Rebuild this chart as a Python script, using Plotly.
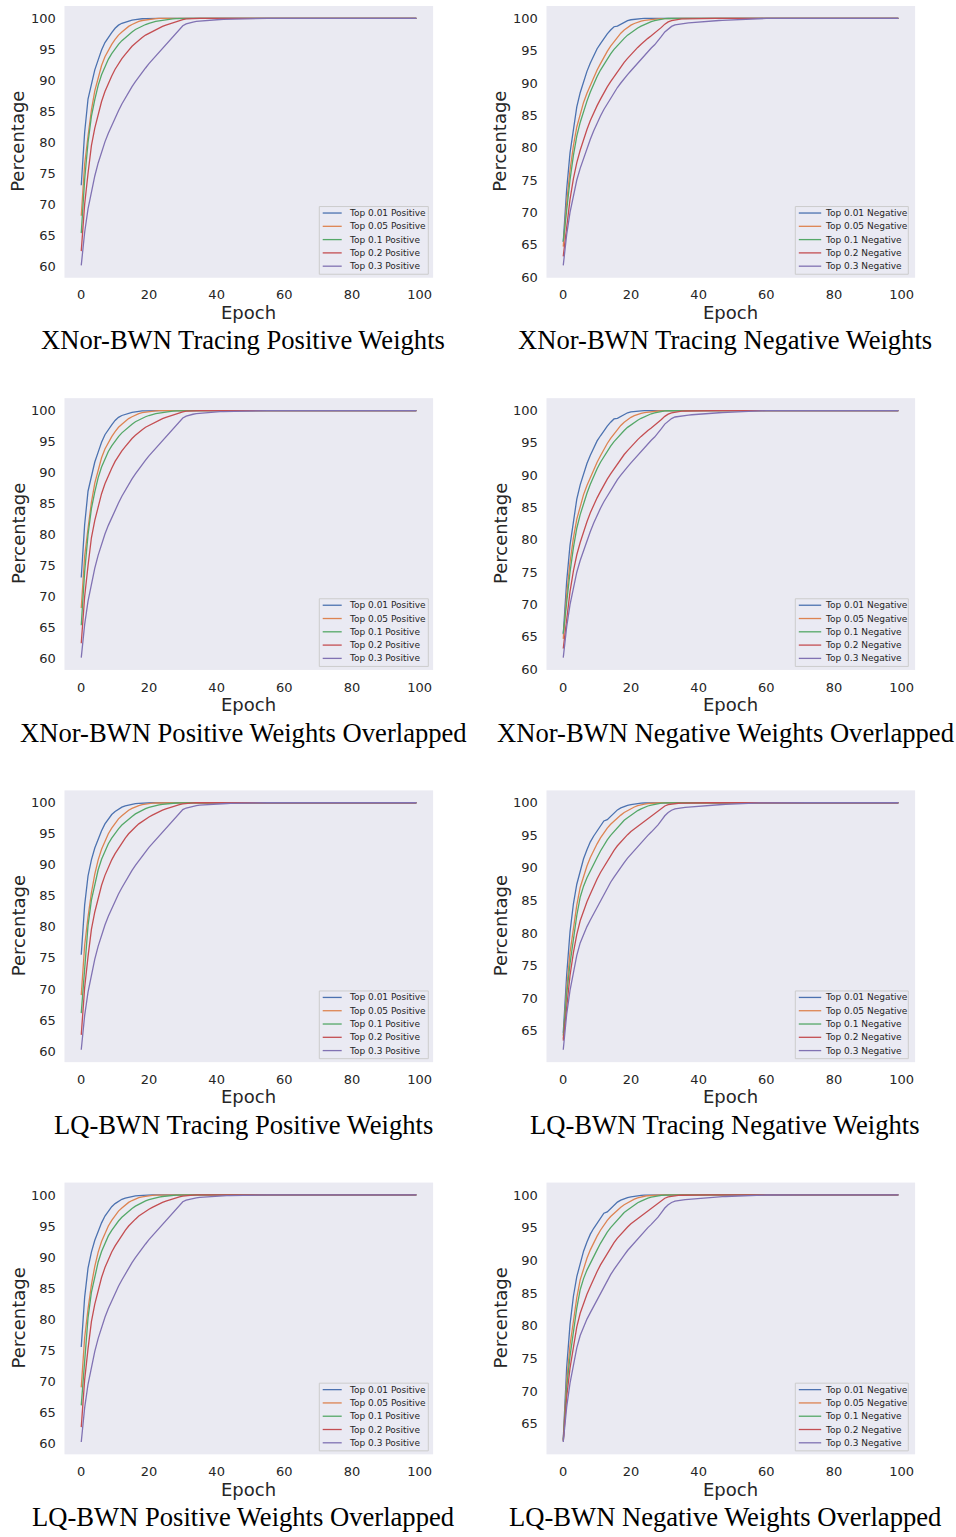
import plotly.graph_objects as go

W, H = 956, 1537
epochs = list(range(100))

# ---------------- XNor-BWN, positive weights ----------------
xnor_pos_top001 = [
    73.1, 81.6, 87.0, 89.6, 91.7, 93.3, 94.9, 96.1, 97.0, 97.7,
    98.4, 98.9, 99.2, 99.4, 99.6, 99.7, 99.8, 99.9, 99.93, 99.96,
    100, 100, 100, 100, 100, 100, 100, 100, 100, 100,
    100, 100, 100, 100, 100, 100, 100, 100, 100, 100,
    100, 100, 100, 100, 100, 100, 100, 100, 100, 100,
    100, 100, 100, 100, 100, 100, 100, 100, 100, 100,
    100, 100, 100, 100, 100, 100, 100, 100, 100, 100,
    100, 100, 100, 100, 100, 100, 100, 100, 100, 100,
    100, 100, 100, 100, 100, 100, 100, 100, 100, 100,
    100, 100, 100, 100, 100, 100, 100, 100, 100, 100,
]
xnor_pos_top005 = [
    68.2, 76.5, 81.0, 85.2, 88.3, 90.6, 92.4, 93.8, 94.9, 95.8,
    96.6, 97.3, 97.8, 98.3, 98.7, 99.0, 99.3, 99.5, 99.65, 99.75,
    99.85, 99.9, 99.95, 99.98, 100, 100, 100, 100, 100, 100,
    100, 100, 100, 100, 100, 100, 100, 100, 100, 100,
    100, 100, 100, 100, 100, 100, 100, 100, 100, 100,
    100, 100, 100, 100, 100, 100, 100, 100, 100, 100,
    100, 100, 100, 100, 100, 100, 100, 100, 100, 100,
    100, 100, 100, 100, 100, 100, 100, 100, 100, 100,
    100, 100, 100, 100, 100, 100, 100, 100, 100, 100,
    100, 100, 100, 100, 100, 100, 100, 100, 100, 100,
]
xnor_pos_top01 = [
    65.4, 74.0, 80.0, 84.2, 86.9, 89.2, 90.9, 92.3, 93.4, 94.3,
    95.1, 95.8, 96.4, 96.9, 97.4, 97.8, 98.2, 98.5, 98.8, 99.0,
    99.2, 99.4, 99.5, 99.6, 99.7, 99.8, 99.85, 99.9, 99.95, 99.98,
    100, 100, 100, 100, 100, 100, 100, 100, 100, 100,
    100, 100, 100, 100, 100, 100, 100, 100, 100, 100,
    100, 100, 100, 100, 100, 100, 100, 100, 100, 100,
    100, 100, 100, 100, 100, 100, 100, 100, 100, 100,
    100, 100, 100, 100, 100, 100, 100, 100, 100, 100,
    100, 100, 100, 100, 100, 100, 100, 100, 100, 100,
    100, 100, 100, 100, 100, 100, 100, 100, 100, 100,
]
xnor_pos_top02 = [
    62.5, 70.0, 75.0, 79.5, 82.3, 84.7, 86.6, 88.2, 89.6, 90.7,
    91.8, 92.7, 93.5, 94.2, 94.9, 95.5, 96.0, 96.5, 96.9, 97.3,
    97.6, 97.9, 98.2, 98.4, 98.7, 98.9, 99.1, 99.3, 99.5, 99.65,
    99.8, 99.9, 99.95, 99.98, 100, 100, 100, 100, 100, 100,
    100, 100, 100, 100, 100, 100, 100, 100, 100, 100,
    100, 100, 100, 100, 100, 100, 100, 100, 100, 100,
    100, 100, 100, 100, 100, 100, 100, 100, 100, 100,
    100, 100, 100, 100, 100, 100, 100, 100, 100, 100,
    100, 100, 100, 100, 100, 100, 100, 100, 100, 100,
    100, 100, 100, 100, 100, 100, 100, 100, 100, 100,
]
xnor_pos_top03 = [
    60.2, 65.5, 69.3, 72.2, 74.6, 76.7, 78.5, 80.1, 81.5, 82.8,
    84.0, 85.1, 86.2, 87.2, 88.1, 89.0, 89.8, 90.6, 91.3, 92.0,
    92.7, 93.3, 93.9, 94.5, 95.1, 95.7, 96.3, 96.9, 97.5, 98.1,
    98.8, 99.1, 99.3, 99.4, 99.5, 99.56, 99.62, 99.67, 99.71, 99.75,
    99.78, 99.81, 99.84, 99.86, 99.88, 99.9, 99.92, 99.93, 99.94, 99.95,
    99.96, 99.97, 99.98, 99.99, 99.99, 100, 100, 100, 100, 100,
    100, 100, 100, 100, 100, 100, 100, 100, 100, 100,
    100, 100, 100, 100, 100, 100, 100, 100, 100, 100,
    100, 100, 100, 100, 100, 100, 100, 100, 100, 100,
    100, 100, 100, 100, 100, 100, 100, 100, 100, 100,
]

# ---------------- XNor-BWN, negative weights ----------------
xnor_neg_top001 = [
    65.4, 73.5, 79.2, 83.0, 86.3, 88.5, 90.3, 91.8, 93.1, 94.3,
    95.3, 96.1, 96.9, 97.6, 98.2, 98.7, 98.8, 99.1, 99.4, 99.65,
    99.78, 99.86, 99.92, 99.96, 99.98, 100, 100, 100, 100, 100,
    100, 100, 100, 100, 100, 100, 100, 100, 100, 100,
    100, 100, 100, 100, 100, 100, 100, 100, 100, 100,
    100, 100, 100, 100, 100, 100, 100, 100, 100, 100,
    100, 100, 100, 100, 100, 100, 100, 100, 100, 100,
    100, 100, 100, 100, 100, 100, 100, 100, 100, 100,
    100, 100, 100, 100, 100, 100, 100, 100, 100, 100,
    100, 100, 100, 100, 100, 100, 100, 100, 100, 100,
]
xnor_neg_top005 = [
    64.7, 71.5, 76.5, 80.3, 83.2, 85.2, 87.0, 88.4, 89.7, 90.9,
    92.0, 93.0, 94.0, 94.9, 95.7, 96.4, 97.1, 97.7, 98.2, 98.6,
    98.95, 99.2, 99.4, 99.55, 99.67, 99.76, 99.83, 99.88, 99.93, 99.96,
    99.98, 100, 100, 100, 100, 100, 100, 100, 100, 100,
    100, 100, 100, 100, 100, 100, 100, 100, 100, 100,
    100, 100, 100, 100, 100, 100, 100, 100, 100, 100,
    100, 100, 100, 100, 100, 100, 100, 100, 100, 100,
    100, 100, 100, 100, 100, 100, 100, 100, 100, 100,
    100, 100, 100, 100, 100, 100, 100, 100, 100, 100,
    100, 100, 100, 100, 100, 100, 100, 100, 100, 100,
]
xnor_neg_top01 = [
    65.5, 70.5, 75.0, 78.8, 81.8, 83.9, 85.7, 87.2, 88.6, 89.9,
    91.0, 92.0, 92.9, 93.7, 94.5, 95.2, 95.8, 96.4, 96.9, 97.4,
    97.8, 98.2, 98.5, 98.8, 99.05, 99.3, 99.5, 99.65, 99.78, 99.88,
    99.94, 99.97, 99.99, 100, 100, 100, 100, 100, 100, 100,
    100, 100, 100, 100, 100, 100, 100, 100, 100, 100,
    100, 100, 100, 100, 100, 100, 100, 100, 100, 100,
    100, 100, 100, 100, 100, 100, 100, 100, 100, 100,
    100, 100, 100, 100, 100, 100, 100, 100, 100, 100,
    100, 100, 100, 100, 100, 100, 100, 100, 100, 100,
    100, 100, 100, 100, 100, 100, 100, 100, 100, 100,
]
xnor_neg_top02 = [
    63.2, 68.0, 72.0, 75.2, 77.7, 79.6, 81.3, 82.8, 84.2, 85.4,
    86.5, 87.5, 88.5, 89.4, 90.2, 91.0, 91.8, 92.5, 93.2, 93.8,
    94.4, 95.0, 95.5, 96.0, 96.5, 96.9, 97.3, 97.7, 98.1, 98.6,
    99.1, 99.45, 99.65, 99.77, 99.85, 99.9, 99.93, 99.95, 99.97, 99.98,
    99.99, 100, 100, 100, 100, 100, 100, 100, 100, 100,
    100, 100, 100, 100, 100, 100, 100, 100, 100, 100,
    100, 100, 100, 100, 100, 100, 100, 100, 100, 100,
    100, 100, 100, 100, 100, 100, 100, 100, 100, 100,
    100, 100, 100, 100, 100, 100, 100, 100, 100, 100,
    100, 100, 100, 100, 100, 100, 100, 100, 100, 100,
]
xnor_neg_top03 = [
    61.8, 66.5, 70.0, 72.8, 75.0, 76.8, 78.4, 79.9, 81.3, 82.6,
    83.8, 84.9, 85.9, 86.8, 87.7, 88.5, 89.3, 90.0, 90.7, 91.3,
    91.9, 92.5, 93.1, 93.7, 94.3, 94.8, 95.4, 95.9, 96.5, 97.2,
    97.9, 98.4, 98.75, 99.0, 99.1, 99.18, 99.25, 99.3, 99.35, 99.4,
    99.44, 99.48, 99.52, 99.56, 99.6, 99.63, 99.66, 99.69, 99.72, 99.75,
    99.78, 99.8, 99.83, 99.85, 99.88, 99.9, 99.92, 99.94, 99.96, 99.98,
    99.99, 100, 100, 100, 100, 100, 100, 100, 100, 100,
    100, 100, 100, 100, 100, 100, 100, 100, 100, 100,
    100, 100, 100, 100, 100, 100, 100, 100, 100, 100,
    100, 100, 100, 100, 100, 100, 100, 100, 100, 100,
]

# ---------------- LQ-BWN, positive weights ----------------
lq_pos_top001 = [
    75.5, 83.5, 88.2, 90.8, 92.7, 94.2, 95.5, 96.6, 97.4, 98.1,
    98.6, 99.0, 99.3, 99.5, 99.65, 99.75, 99.85, 99.9, 99.95, 99.97,
    99.99, 100, 100, 100, 100, 100, 100, 100, 100, 100,
    100, 100, 100, 100, 100, 100, 100, 100, 100, 100,
    100, 100, 100, 100, 100, 100, 100, 100, 100, 100,
    100, 100, 100, 100, 100, 100, 100, 100, 100, 100,
    100, 100, 100, 100, 100, 100, 100, 100, 100, 100,
    100, 100, 100, 100, 100, 100, 100, 100, 100, 100,
    100, 100, 100, 100, 100, 100, 100, 100, 100, 100,
    100, 100, 100, 100, 100, 100, 100, 100, 100, 100,
]
lq_pos_top005 = [
    69.0, 77.0, 81.6, 85.5, 88.5, 90.8, 92.5, 93.9, 95.0, 95.9,
    96.7, 97.4, 97.9, 98.4, 98.8, 99.1, 99.35, 99.55, 99.7, 99.8,
    99.88, 99.93, 99.96, 99.98, 100, 100, 100, 100, 100, 100,
    100, 100, 100, 100, 100, 100, 100, 100, 100, 100,
    100, 100, 100, 100, 100, 100, 100, 100, 100, 100,
    100, 100, 100, 100, 100, 100, 100, 100, 100, 100,
    100, 100, 100, 100, 100, 100, 100, 100, 100, 100,
    100, 100, 100, 100, 100, 100, 100, 100, 100, 100,
    100, 100, 100, 100, 100, 100, 100, 100, 100, 100,
    100, 100, 100, 100, 100, 100, 100, 100, 100, 100,
]
lq_pos_top01 = [
    66.1, 74.0, 80.2, 84.3, 87.0, 89.2, 90.9, 92.3, 93.4, 94.3,
    95.1, 95.8, 96.4, 96.9, 97.4, 97.8, 98.2, 98.5, 98.8, 99.05,
    99.25, 99.42, 99.55, 99.65, 99.75, 99.83, 99.89, 99.93, 99.96, 99.98,
    100, 100, 100, 100, 100, 100, 100, 100, 100, 100,
    100, 100, 100, 100, 100, 100, 100, 100, 100, 100,
    100, 100, 100, 100, 100, 100, 100, 100, 100, 100,
    100, 100, 100, 100, 100, 100, 100, 100, 100, 100,
    100, 100, 100, 100, 100, 100, 100, 100, 100, 100,
    100, 100, 100, 100, 100, 100, 100, 100, 100, 100,
    100, 100, 100, 100, 100, 100, 100, 100, 100, 100,
]
lq_pos_top02 = [
    62.6, 70.2, 75.2, 79.6, 82.4, 84.8, 86.7, 88.3, 89.6, 90.8,
    91.8, 92.7, 93.5, 94.3, 95.0, 95.6, 96.1, 96.6, 97.0, 97.4,
    97.7, 98.0, 98.3, 98.5, 98.8, 99.0, 99.2, 99.4, 99.55, 99.7,
    99.82, 99.9, 99.95, 99.98, 100, 100, 100, 100, 100, 100,
    100, 100, 100, 100, 100, 100, 100, 100, 100, 100,
    100, 100, 100, 100, 100, 100, 100, 100, 100, 100,
    100, 100, 100, 100, 100, 100, 100, 100, 100, 100,
    100, 100, 100, 100, 100, 100, 100, 100, 100, 100,
    100, 100, 100, 100, 100, 100, 100, 100, 100, 100,
    100, 100, 100, 100, 100, 100, 100, 100, 100, 100,
]
lq_pos_top03 = [
    60.2, 65.7, 69.5, 72.4, 74.8, 76.9, 78.7, 80.3, 81.7, 83.0,
    84.2, 85.3, 86.3, 87.3, 88.2, 89.1, 89.9, 90.7, 91.4, 92.1,
    92.8, 93.4, 94.0, 94.6, 95.2, 95.8, 96.4, 97.0, 97.6, 98.2,
    98.9, 99.15, 99.3, 99.42, 99.52, 99.6, 99.65, 99.7, 99.74, 99.78,
    99.81, 99.84, 99.86, 99.88, 99.9, 99.92, 99.93, 99.94, 99.95, 99.96,
    99.97, 99.98, 99.99, 99.99, 100, 100, 100, 100, 100, 100,
    100, 100, 100, 100, 100, 100, 100, 100, 100, 100,
    100, 100, 100, 100, 100, 100, 100, 100, 100, 100,
    100, 100, 100, 100, 100, 100, 100, 100, 100, 100,
    100, 100, 100, 100, 100, 100, 100, 100, 100, 100,
]

# ---------------- LQ-BWN, negative weights ----------------
lq_neg_top001 = [
    64.7, 73.5, 80.2, 84.5, 87.5, 89.7, 91.4, 92.8, 94.0, 94.9,
    95.7, 96.5, 97.2, 97.4, 97.9, 98.4, 98.9, 99.2, 99.45, 99.6,
    99.72, 99.82, 99.88, 99.93, 99.96, 99.98, 100, 100, 100, 100,
    100, 100, 100, 100, 100, 100, 100, 100, 100, 100,
    100, 100, 100, 100, 100, 100, 100, 100, 100, 100,
    100, 100, 100, 100, 100, 100, 100, 100, 100, 100,
    100, 100, 100, 100, 100, 100, 100, 100, 100, 100,
    100, 100, 100, 100, 100, 100, 100, 100, 100, 100,
    100, 100, 100, 100, 100, 100, 100, 100, 100, 100,
    100, 100, 100, 100, 100, 100, 100, 100, 100, 100,
]
lq_neg_top005 = [
    63.8, 71.5, 77.0, 81.0, 84.3, 87.0, 88.8, 90.3, 91.6, 92.7,
    93.7, 94.6, 95.4, 96.1, 96.7, 97.2, 97.7, 98.1, 98.5, 98.8,
    99.1, 99.35, 99.55, 99.7, 99.8, 99.88, 99.93, 99.96, 99.98, 100,
    100, 100, 100, 100, 100, 100, 100, 100, 100, 100,
    100, 100, 100, 100, 100, 100, 100, 100, 100, 100,
    100, 100, 100, 100, 100, 100, 100, 100, 100, 100,
    100, 100, 100, 100, 100, 100, 100, 100, 100, 100,
    100, 100, 100, 100, 100, 100, 100, 100, 100, 100,
    100, 100, 100, 100, 100, 100, 100, 100, 100, 100,
    100, 100, 100, 100, 100, 100, 100, 100, 100, 100,
]
lq_neg_top01 = [
    64.3, 70.5, 75.3, 79.3, 82.7, 85.5, 87.2, 88.5, 89.6, 90.6,
    91.6, 92.6, 93.5, 94.3, 95.0, 95.6, 96.2, 96.8, 97.3, 97.7,
    98.1, 98.5, 98.8, 99.05, 99.3, 99.5, 99.65, 99.77, 99.87, 99.93,
    99.97, 99.99, 100, 100, 100, 100, 100, 100, 100, 100,
    100, 100, 100, 100, 100, 100, 100, 100, 100, 100,
    100, 100, 100, 100, 100, 100, 100, 100, 100, 100,
    100, 100, 100, 100, 100, 100, 100, 100, 100, 100,
    100, 100, 100, 100, 100, 100, 100, 100, 100, 100,
    100, 100, 100, 100, 100, 100, 100, 100, 100, 100,
    100, 100, 100, 100, 100, 100, 100, 100, 100, 100,
]
lq_neg_top02 = [
    63.5, 69.0, 73.5, 77.0, 79.8, 81.9, 83.5, 84.8, 86.0, 87.2,
    88.3, 89.3, 90.2, 91.1, 91.9, 92.7, 93.4, 94.0, 94.6, 95.1,
    95.6, 96.0, 96.4, 96.8, 97.2, 97.6, 98.0, 98.4, 98.8, 99.2,
    99.5, 99.7, 99.8, 99.87, 99.92, 99.95, 99.97, 99.98, 99.99, 100,
    100, 100, 100, 100, 100, 100, 100, 100, 100, 100,
    100, 100, 100, 100, 100, 100, 100, 100, 100, 100,
    100, 100, 100, 100, 100, 100, 100, 100, 100, 100,
    100, 100, 100, 100, 100, 100, 100, 100, 100, 100,
    100, 100, 100, 100, 100, 100, 100, 100, 100, 100,
    100, 100, 100, 100, 100, 100, 100, 100, 100, 100,
]
lq_neg_top03 = [
    62.1, 67.5, 71.2, 74.2, 76.6, 78.5, 79.9, 81.0, 82.0, 83.0,
    84.0, 85.0, 86.0, 86.9, 87.8, 88.6, 89.4, 90.1, 90.8, 91.5,
    92.1, 92.7, 93.3, 93.9, 94.5, 95.0, 95.5, 96.0, 96.6, 97.3,
    98.0, 98.5, 98.85, 99.05, 99.15, 99.22, 99.28, 99.33, 99.38, 99.42,
    99.46, 99.5, 99.54, 99.58, 99.62, 99.66, 99.7, 99.73, 99.76, 99.79,
    99.82, 99.84, 99.86, 99.88, 99.9, 99.92, 99.94, 99.96, 99.97, 99.98,
    99.99, 100, 100, 100, 100, 100, 100, 100, 100, 100,
    100, 100, 100, 100, 100, 100, 100, 100, 100, 100,
    100, 100, 100, 100, 100, 100, 100, 100, 100, 100,
    100, 100, 100, 100, 100, 100, 100, 100, 100, 100,
]
# epoch-0 values of the LQ-BWN negative "overlapped" panel (curves start together)
lq_neg_overlap_start = [62.6, 62.5, 62.4, 62.3, 62.2]

top_labels = ["Top 0.01", "Top 0.05", "Top 0.1", "Top 0.2", "Top 0.3"]
colors = ["#4C72B0", "#DD8452", "#55A868", "#C44E52", "#8172B3"]

xnor_pos = [xnor_pos_top001, xnor_pos_top005, xnor_pos_top01, xnor_pos_top02, xnor_pos_top03]
xnor_neg = [xnor_neg_top001, xnor_neg_top005, xnor_neg_top01, xnor_neg_top02, xnor_neg_top03]
lq_pos = [lq_pos_top001, lq_pos_top005, lq_pos_top01, lq_pos_top02, lq_pos_top03]
lq_neg = [lq_neg_top001, lq_neg_top005, lq_neg_top01, lq_neg_top02, lq_neg_top03]
lq_neg_overlap = [[s0] + s[1:] for s0, s in zip(lq_neg_overlap_start, lq_neg)]

panels = [
    ("XNor-BWN Tracing Positive Weights", xnor_pos, "Positive", 0, 0),
    ("XNor-BWN Tracing Negative Weights", xnor_neg, "Negative", 0, 1),
    ("XNor-BWN Positive Weights Overlapped", xnor_pos, "Positive", 1, 0),
    ("XNor-BWN Negative Weights Overlapped", xnor_neg, "Negative", 1, 1),
    ("LQ-BWN Tracing Positive Weights", lq_pos, "Positive", 2, 0),
    ("LQ-BWN Tracing Negative Weights", lq_neg, "Negative", 2, 1),
    ("LQ-BWN Positive Weights Overlapped", lq_pos, "Positive", 3, 0),
    ("LQ-BWN Negative Weights Overlapped", lq_neg_overlap, "Negative", 3, 1),
]

# layout geometry (pixels)
COL_LEFT = [64.5, 546.5]
PW, PH = 368.6, 273.0
ROW_TOP0, ROW_STEP = 6.0, 394.0
TITLE_X = [243.0, 725.0]
YLABEL_X = [18.0, 500.0]
TEXT = "#262626"
SANS = "DejaVu Sans"

def px(x):
    return x / W

def py(y):
    return 1 - y / H

fig = go.Figure()
shapes, annotations = [], []
layout_axes = {}

for i, (title, series, kind, r, c) in enumerate(panels):
    n = i + 1
    sfx = "" if n == 1 else str(n)
    left = COL_LEFT[c]
    top = ROW_TOP0 + ROW_STEP * r
    for s, color, lab in zip(series, colors, top_labels):
        fig.add_trace(go.Scatter(
            x=epochs[:len(s)], y=s, mode="lines",
            line=dict(color=color, width=1.3),
            name=f"{lab} {kind}", showlegend=False,
            xaxis="x" + sfx, yaxis="y" + sfx, hoverinfo="skip"))
    lo = min(min(s) for s in series)
    hi = max(max(s) for s in series)
    pad = 0.05 * (hi - lo)
    xpad = 0.05 * (epochs[-1] - epochs[0])
    common = dict(showgrid=False, zeroline=False, showline=False,
                  ticks="outside", ticklen=5, tickcolor="rgba(0,0,0,0)",
                  tickfont=dict(family=SANS, size=13, color=TEXT))
    layout_axes["xaxis" + sfx] = dict(
        domain=[px(left), px(left + PW)], anchor="y" + sfx,
        range=[epochs[0] - xpad, epochs[-1] + xpad],
        tickmode="array", tickvals=[0, 20, 40, 60, 80, 100], **common)
    layout_axes["yaxis" + sfx] = dict(
        domain=[py(top + PH), py(top)], anchor="x" + sfx,
        range=[lo - pad, hi + pad], tick0=0, dtick=5, **common)

    # axis titles and panel caption
    annotations.append(dict(x=px(left + PW / 2), y=py(top + 308), xref="paper", yref="paper",
                            text="Epoch", showarrow=False, xanchor="center", yanchor="middle",
                            font=dict(family=SANS, size=18, color=TEXT)))
    annotations.append(dict(x=px(YLABEL_X[c]), y=py(top + PH / 2), xref="paper", yref="paper",
                            text="Percentage", showarrow=False, textangle=-90,
                            xanchor="center", yanchor="middle",
                            font=dict(family=SANS, size=18, color=TEXT)))
    annotations.append(dict(x=px(TITLE_X[c]), y=py(top + 336), xref="paper", yref="paper",
                            text=title, showarrow=False, xanchor="center", yanchor="middle",
                            font=dict(family="Liberation Serif", size=26.6, color="black")))

    # legend box (lower right)
    if c == 0:
        bx0, bx1, hx0, hx1, tx = 254.8, 363.8, 258.2, 277.2, 282.8
    else:
        bx0, bx1, hx0, hx1, tx = 248.8, 361.8, 252.3, 274.7, 276.8
    shapes.append(dict(type="rect", xref="paper", yref="paper",
                       x0=px(left + bx0), x1=px(left + bx1),
                       y0=py(top + 269.5), y1=py(top + 201.5),
                       fillcolor="rgba(234,234,242,0.8)", line=dict(color="#CCCCCC", width=1)))
    for k, (color, lab) in enumerate(zip(colors, top_labels)):
        yy = top + 208.0 + 13.35 * k
        shapes.append(dict(type="line", xref="paper", yref="paper",
                           x0=px(left + hx0), x1=px(left + hx1), y0=py(yy), y1=py(yy),
                           line=dict(color=color, width=1.3)))
        annotations.append(dict(x=px(left + tx), y=py(yy), xref="paper", yref="paper",
                                text=f"{lab} {kind}", showarrow=False,
                                xanchor="left", yanchor="middle",
                                font=dict(family=SANS, size=9, color=TEXT)))

fig.update_layout(
    width=W, height=H, margin=dict(l=0, r=0, t=0, b=0),
    paper_bgcolor="white", plot_bgcolor="#EAEAF2",
    showlegend=False, shapes=shapes, annotations=annotations,
    **layout_axes)

fig.write_html("out.html")
